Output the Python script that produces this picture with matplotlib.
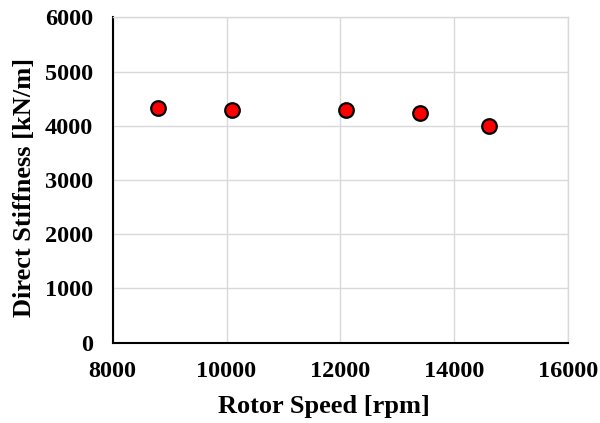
import matplotlib
matplotlib.use("Agg")
import matplotlib.pyplot as plt

rotor_speed = [8800, 10100, 12100, 13400, 14610]
direct_stiffness = [4320, 4290, 4285, 4240, 3995]
x_ticks = [8000, 10000, 12000, 14000, 16000]
y_ticks = [0, 1000, 2000, 3000, 4000, 5000, 6000]

plt.rcParams['font.family'] = ['Liberation Serif', 'DejaVu Serif']
plt.rcParams['font.weight'] = 'bold'

fig = plt.figure(figsize=(6.0, 4.23), dpi=100)
ax = fig.add_axes([112.7/600, 1 - 342.7/423, (568 - 112.7)/600, (342.7 - 17.3)/423])

ax.scatter(rotor_speed, direct_stiffness, s=110, c='#ff0000', edgecolors='black',
           linewidths=1.6, zorder=3, clip_on=False)

ax.set_xlim(8000, 16000)
ax.set_ylim(0, 6000)
ax.set_xticks(x_ticks)
ax.set_yticks(y_ticks)
ax.grid(True, color='#d9d9d9', linewidth=1.0)
ax.set_axisbelow(True)
for s in ['top', 'right']:
    ax.spines[s].set_color('#d9d9d9')
    ax.spines[s].set_linewidth(1.0)
for s in ['left', 'bottom']:
    ax.spines[s].set_color('black')
    ax.spines[s].set_linewidth(1.5)
ax.tick_params(axis='y', length=0, labelsize=17.5, pad=14)
ax.tick_params(axis='x', length=0, labelsize=17.5, pad=13)
for lab in ax.get_xticklabels() + ax.get_yticklabels():
    lab.set_fontweight('bold')
ax.set_xlabel('Rotor Speed [rpm]', fontsize=19, fontweight='bold')
ax.set_ylabel('Direct Stiffness [kN/m]', fontsize=19, fontweight='bold')
ax.xaxis.set_label_coords(0.463, -0.16)
ax.yaxis.set_label_coords(-0.168, 0.478)

fig.savefig('out.png', dpi=100)
